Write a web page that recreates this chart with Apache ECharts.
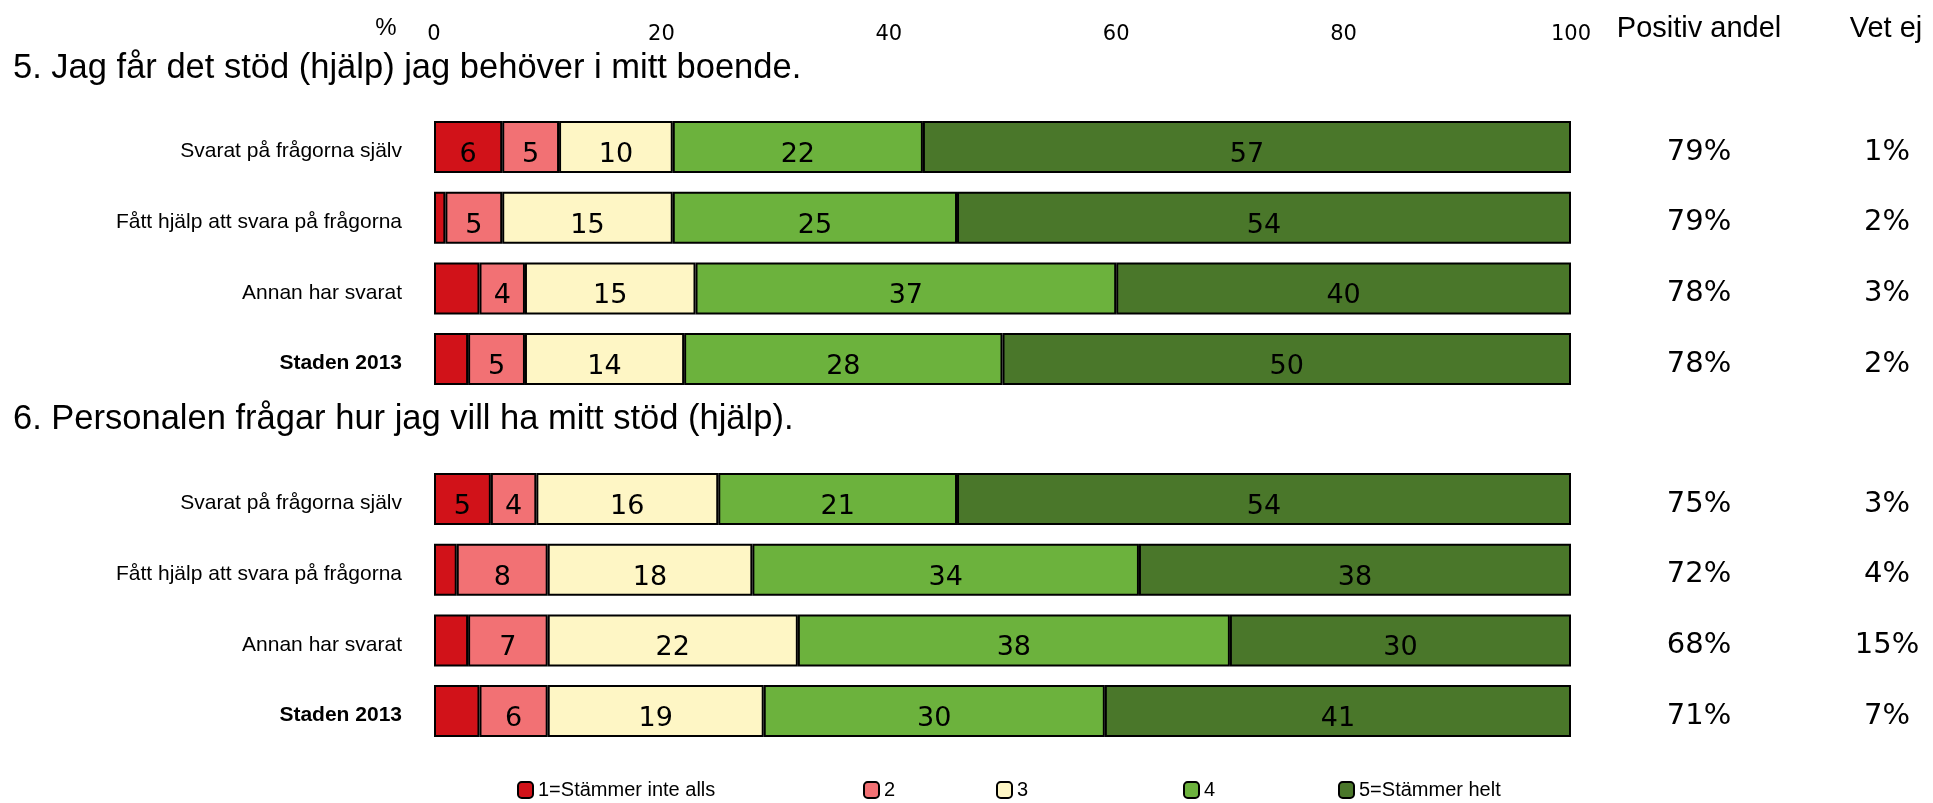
<!DOCTYPE html>
<html>
<head>
<meta charset="utf-8">
<script src="https://cdn.jsdelivr.net/npm/echarts@6/dist/echarts.min.js"></script>
<style>
  html, body { margin: 0; padding: 0; background: #fff; }
  #chart { width: 1933px; height: 803px; }
</style>
</head>
<body>
<div id="chart"></div>
<script>
// Response groups shown for each question
const categories = ['Svarat på frågorna själv', 'Fått hjälp att svara på frågorna', 'Annan har svarat', 'Staden 2013'];
const questions = [
  '5. Jag får det stöd (hjälp) jag behöver i mitt boende.',
  '6. Personalen frågar hur jag vill ha mitt stöd (hjälp).'
];
const levelNames = ['1=Stämmer inte alls', '2', '3', '4', '5=Stämmer helt'];
const levelColors = ['#D11219', '#F27174', '#FEF6C5', '#6CB23D', '#4A772A'];

// Question 5, percent per answer level (rows follow categories)
const q5Level1 = [6, 1, 4, 3];
const q5Level2 = [5, 5, 4, 5];
const q5Level3 = [10, 15, 15, 14];
const q5Level4 = [22, 25, 37, 28];
const q5Level5 = [57, 54, 40, 50];
const q5Positive = [79, 79, 78, 78];
const q5DontKnow = [1, 2, 3, 2];

// Question 6, percent per answer level
const q6Level1 = [5, 2, 3, 4];
const q6Level2 = [4, 8, 7, 6];
const q6Level3 = [16, 18, 22, 19];
const q6Level4 = [21, 34, 38, 30];
const q6Level5 = [54, 38, 30, 41];
const q6Positive = [75, 72, 68, 71];
const q6DontKnow = [3, 4, 15, 7];

// Percent scale
const xMin = 0, xMax = 100, xStep = 20;

const q5 = [q5Level1, q5Level2, q5Level3, q5Level4, q5Level5];
const q6 = [q6Level1, q6Level2, q6Level3, q6Level4, q6Level5];
// smallest value that still gets a label inside its segment
const labelMin = [5, 0, 0, 0, 0];

const SANS = "'Liberation Sans', Arial, sans-serif";
const NUM = "'DejaVu Sans', sans-serif";

const chart = echarts.init(document.getElementById('chart'), null, { renderer: 'canvas' });

const gridLeft = 434, gridRight = 1933 - 1571, rowPitch = 70.67;
const grids = [
  { left: gridLeft, right: gridRight, top: 111.7, height: rowPitch * 4 },
  { left: gridLeft, right: gridRight, top: 463.7, height: rowPitch * 4 }
];

const xAxes = [0, 1].map(g => ({
  gridIndex: g, type: 'value', position: 'top',
  min: xMin, max: xMax, interval: xStep,
  axisLine: { show: false }, axisTick: { show: false }, splitLine: { show: false },
  axisLabel: {
    show: g === 0, margin: 67, color: '#000',
    fontFamily: NUM, fontSize: 21, lineHeight: 20
  }
}));

const yAxes = [];
[[q5Positive, q5DontKnow], [q6Positive, q6DontKnow]].forEach((cols, g) => {
  yAxes.push({
    gridIndex: g, type: 'category', inverse: true, data: categories,
    axisLine: { show: false }, axisTick: { show: false },
    axisLabel: {
      margin: 32, color: '#000', fontFamily: SANS, fontSize: 21,
      padding: [9, 0, 0, 0],
      formatter: (v, i) => i === categories.length - 1 ? '{b|' + v + '}' : v,
      rich: { b: { fontWeight: 'bold', fontFamily: SANS, fontSize: 21, color: '#000' } }
    }
  });
  [[cols[0], 128], [cols[1], 316]].forEach(([vals, m]) => {
    yAxes.push({
      gridIndex: g, type: 'category', inverse: true, position: 'right',
      data: vals.map(v => v + '%'),
      axisLine: { show: false }, axisTick: { show: false },
      axisLabel: {
        margin: m, align: 'center', color: '#000',
        formatter: v => '{p|' + v + '}',
        rich: { p: { fontFamily: NUM, fontSize: 29, color: '#000', padding: [10, 0, 0, 0] } }
      }
    });
  });
});

const series = [];
[q5, q6].forEach((levels, g) => {
  levels.forEach((vals, k) => {
    series.push({
      name: levelNames[k], type: 'bar', stack: 'q' + g,
      xAxisIndex: g, yAxisIndex: g * 3,
      barWidth: 52,
      data: vals,
      itemStyle: { color: levelColors[k], borderColor: '#000', borderWidth: 2 },
      label: {
        show: true, position: 'inside', offset: [0, 8],
        color: '#000', fontFamily: NUM, fontSize: 27,
        formatter: p => p.value >= labelMin[k] ? String(p.value) : ''
      },
      emphasis: { disabled: true }
    });
  });
});

const legendLefts = [517, 863, 996, 1183, 1338];
const legends = levelNames.map((n, k) => ({
  data: [n], left: legendLefts[k], top: 780, padding: 0,
  itemWidth: 15, itemHeight: 16, itemGap: 0, selectedMode: false,
  itemStyle: { borderColor: '#000', borderWidth: 2 },
  textStyle: { fontFamily: SANS, fontSize: 20, color: '#000' }
}));

const graphic = [
  { type: 'text', left: 13, top: 51, style: { text: questions[0], fontFamily: SANS, fontSize: 34.5, fill: '#000' } },
  { type: 'text', left: 13, top: 402, style: { text: questions[1], fontFamily: SANS, fontSize: 34.5, fill: '#000' } },
  { type: 'text', x: 386, y: 28, style: { text: '%', fontFamily: SANS, fontSize: 24, fill: '#000', align: 'center', verticalAlign: 'middle' } },
  { type: 'text', x: 1699, y: 29, style: { text: 'Positiv andel', fontFamily: SANS, fontSize: 29, fill: '#000', align: 'center', verticalAlign: 'middle' } },
  { type: 'text', x: 1886, y: 29, style: { text: 'Vet ej', fontFamily: SANS, fontSize: 29, fill: '#000', align: 'center', verticalAlign: 'middle' } }
];

chart.setOption({
  animation: false,
  backgroundColor: '#fff',
  grid: grids,
  xAxis: xAxes,
  yAxis: yAxes,
  legend: legends,
  series: series,
  graphic: graphic
});
</script>
</body>
</html>
